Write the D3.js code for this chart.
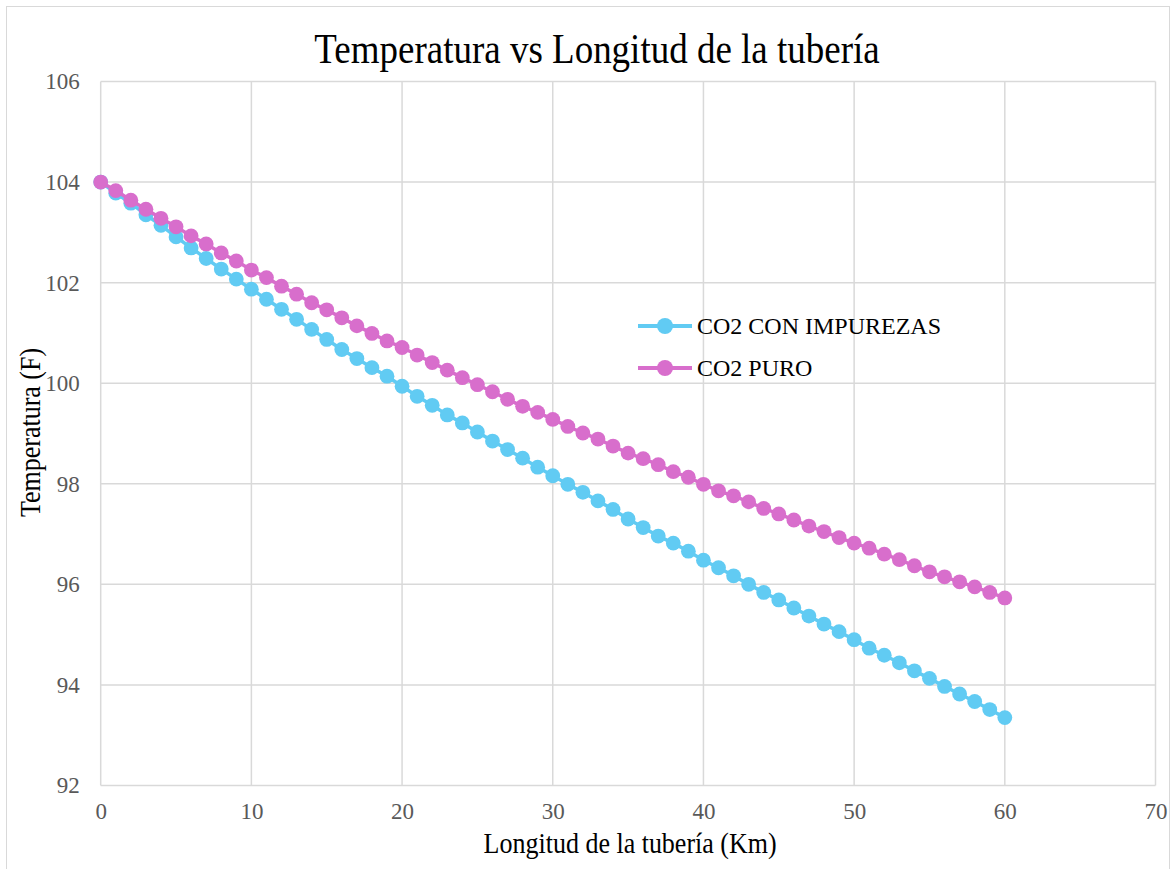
<!DOCTYPE html>
<html>
<head>
<meta charset="utf-8">
<script src="https://cdn.jsdelivr.net/npm/d3@7"></script>
<style>
	body { margin: 0; background: #fff; }
	svg { display: block; }
	svg text { font-family: "Liberation Serif", "Times New Roman", serif; }
</style>
</head>
<body>
<svg id="chart"></svg>
<script>
'use strict';

var WIDTH = 1176,
	HEIGHT = 869;

var FONT = '"Liberation Serif", "Times New Roman", serif';

// distance along the pipe (km)
var longitud = d3.range(0, 61);

var co2Impurezas = [
	104.00, 103.78, 103.58, 103.35, 103.14, 102.91, 102.69, 102.48, 102.27, 102.07,
	101.87, 101.67, 101.47, 101.27, 101.07, 100.87, 100.67, 100.49, 100.31, 100.14,
	99.94, 99.74, 99.56, 99.37, 99.21, 99.03, 98.85, 98.68, 98.51, 98.33,
	98.16, 97.99, 97.83, 97.66, 97.49, 97.30, 97.13, 96.96, 96.82, 96.66,
	96.48, 96.33, 96.17, 96.00, 95.84, 95.69, 95.53, 95.37, 95.21, 95.06,
	94.90, 94.73, 94.59, 94.44, 94.28, 94.13, 93.97, 93.82, 93.67, 93.51,
	93.35
];

var co2Puro = [
	104.00, 103.83, 103.64, 103.46, 103.28, 103.11, 102.93, 102.77, 102.59, 102.43,
	102.25, 102.10, 101.93, 101.77, 101.60, 101.46, 101.30, 101.14, 100.99, 100.84,
	100.71, 100.56, 100.41, 100.26, 100.11, 99.97, 99.83, 99.68, 99.54, 99.42,
	99.28, 99.14, 99.01, 98.89, 98.75, 98.61, 98.50, 98.38, 98.24, 98.13,
	97.99, 97.86, 97.76, 97.64, 97.51, 97.40, 97.28, 97.16, 97.05, 96.93,
	96.82, 96.72, 96.60, 96.49, 96.37, 96.25, 96.15, 96.05, 95.95, 95.84,
	95.73
];

var xTicks = [0, 10, 20, 30, 40, 50, 60, 70];
var yTicks = [92, 94, 96, 98, 100, 102, 104, 106];

var seriesNames = ['CO2 CON IMPUREZAS', 'CO2 PURO'];
var seriesColors = ['#61cbf3', '#d86ecc'];

var svg = d3.select('#chart')
	.attr('width', WIDTH)
	.attr('height', HEIGHT);

svg.append('rect')
	.attr('x', 0).attr('y', 0)
	.attr('width', WIDTH).attr('height', HEIGHT)
	.style('fill', '#fff');

// outer chart border
svg.append('rect')
	.attr('x', 6.5).attr('y', 6.5)
	.attr('width', WIDTH - 13).attr('height', HEIGHT + 20)
	.style('fill', 'none')
	.style('stroke', '#d9d9d9')
	.style('stroke-width', 1);

var x = d3.scaleLinear()
	.domain([0, 70])
	.range([100.7, 1155.5]);

var y = d3.scaleLinear()
	.domain([92, 106])
	.range([785.5, 81.5]);

// gridlines
svg.append('g')
	.selectAll('line')
	.data(xTicks)
	.enter()
	.append('line')
	.attr('x1', function (d) { return x(d); })
	.attr('x2', function (d) { return x(d); })
	.attr('y1', y(106))
	.attr('y2', y(92))
	.style('stroke', '#d9d9d9')
	.style('stroke-width', 1.5);

svg.append('g')
	.selectAll('line')
	.data(yTicks)
	.enter()
	.append('line')
	.attr('x1', x(0))
	.attr('x2', x(70))
	.attr('y1', function (d) { return y(d); })
	.attr('y2', function (d) { return y(d); })
	.style('stroke', '#d9d9d9')
	.style('stroke-width', 1.5);

// axes (labels only, lines come from the grid)
var xAxis = svg.append('g')
	.attr('transform', 'translate(0,' + y(92) + ')')
	.call(d3.axisBottom(x).tickValues(xTicks).tickSize(0).tickPadding(17));

var yAxis = svg.append('g')
	.attr('transform', 'translate(' + x(0) + ',0)')
	.call(d3.axisLeft(y).tickValues(yTicks).tickSize(0).tickPadding(21));

[xAxis, yAxis].forEach(function (g) {
	g.attr('font-family', FONT).attr('font-size', 23);
	g.select('.domain').remove();
	g.selectAll('text')
		.attr('font-family', FONT)
		.style('font-family', FONT)
		.style('font-size', '23px')
		.style('fill', '#595959');
});

// series
var allSeries = [co2Impurezas, co2Puro];

var line = d3.line()
	.x(function (d, i) { return x(longitud[i]); })
	.y(function (d) { return y(d); });

allSeries.forEach(function (values, s) {
	var g = svg.append('g');

	g.append('path')
		.datum(values)
		.attr('d', line)
		.style('fill', 'none')
		.style('stroke', seriesColors[s])
		.style('stroke-width', 3.5);

	g.selectAll('circle')
		.data(values)
		.enter()
		.append('circle')
		.attr('cx', function (d, i) { return x(longitud[i]); })
		.attr('cy', function (d) { return y(d); })
		.attr('r', 7.4)
		.style('fill', seriesColors[s]);
});

// legend
var legend = svg.append('g')
	.attr('transform', 'translate(638,326)');

seriesNames.forEach(function (name, i) {
	var row = legend.append('g')
		.attr('transform', 'translate(0,' + (i * 42) + ')');

	row.append('line')
		.attr('x1', 0).attr('x2', 54)
		.attr('y1', 0).attr('y2', 0)
		.style('stroke', seriesColors[i])
		.style('stroke-width', 4);

	row.append('circle')
		.attr('cx', 27).attr('cy', 0)
		.attr('r', 8)
		.style('fill', seriesColors[i]);

	row.append('text')
		.attr('x', 59)
		.attr('y', 8)
		.style('font-size', '24px')
		.style('fill', '#000')
		.text(name);
});

// titles (the reference text is drawn a little taller than normal)
svg.append('text')
	.attr('transform', 'translate(597,63) scale(1,1.12)')
	.attr('text-anchor', 'middle')
	.style('font-size', '37px')
	.style('fill', '#000')
	.text('Temperatura vs Longitud de la tubería');

svg.append('text')
	.attr('transform', 'translate(' + ((x(0) + x(70)) / 2 + 2) + ',853) scale(1,1.15)')
	.attr('text-anchor', 'middle')
	.style('font-size', '26px')
	.style('fill', '#000')
	.text('Longitud de la tubería (Km)');

svg.append('text')
	.attr('transform', 'translate(39.5,432.5) rotate(-90) scale(1,1.15)')
	.attr('text-anchor', 'middle')
	.style('font-size', '26px')
	.style('fill', '#000')
	.text('Temperatura (F)');
</script>
</body>
</html>
